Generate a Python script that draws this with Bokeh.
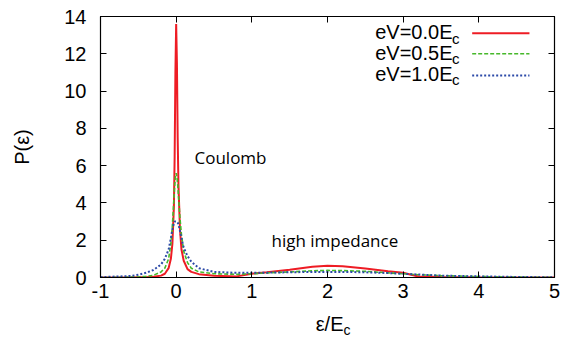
from bokeh.plotting import figure
from bokeh.layouts import column
from bokeh.models import Range1d, LinearAxis, FixedTicker
from bokeh.core.properties import value
from bokeh.embed import file_html
from bokeh.resources import INLINE

# ---- data ----
eps = [-1.0, -0.8, -0.6, -0.5, -0.4, -0.3, -0.2, -0.15, -0.1, -0.07, -0.05, -0.03, -0.02, -0.01,
       0.0, 0.01, 0.02, 0.03, 0.05, 0.07, 0.1, 0.15, 0.2, 0.3, 0.5, 0.8, 1.0, 1.2, 1.5, 1.8,
       2.0, 2.2, 2.5, 2.8, 3.0, 3.2, 3.5, 4.0, 4.5, 5.0]
p_v00 = [0.0, 0.0, 0.0, 0.01, 0.02, 0.04, 0.1, 0.2, 0.5, 1.0, 1.8, 3.8, 6.5, 11.0,
         13.6, 11.5, 7.5, 5.0, 2.6, 1.5, 0.9, 0.45, 0.3, 0.18, 0.1, 0.06, 0.2, 0.28, 0.42, 0.58,
         0.63, 0.6, 0.48, 0.33, 0.25, 0.05, 0.03, 0.01, 0.0, 0.0]
p_v05 = [0.0, 0.01, 0.02, 0.03, 0.06, 0.12, 0.3, 0.5, 1.0, 1.8, 2.8, 4.2, 4.9, 5.4,
         5.6, 5.4, 5.0, 4.4, 3.2, 2.3, 1.4, 0.8, 0.5, 0.3, 0.2, 0.17, 0.2, 0.25, 0.3, 0.36,
         0.38, 0.37, 0.33, 0.25, 0.2, 0.15, 0.1, 0.05, 0.02, 0.01]
p_v10 = [0.02, 0.05, 0.08, 0.15, 0.25, 0.4, 0.7, 1.0, 1.5, 2.1, 2.6, 2.9, 3.0, 3.0,
         3.0, 3.0, 2.95, 2.85, 2.5, 2.1, 1.6, 1.15, 0.85, 0.5, 0.3, 0.25, 0.25, 0.26, 0.28, 0.3,
         0.3, 0.3, 0.28, 0.24, 0.2, 0.16, 0.1, 0.06, 0.03, 0.01]
series_labels = ["eV=0.0E", "eV=0.5E", "eV=1.0E"]
x_ticks = [-1, 0, 1, 2, 3, 4, 5]
y_ticks = [0, 2, 4, 6, 8, 10, 12, 14]

colors = ["#ee1c24", "#46b82a", "#2c4aa8"]
dashes = ["solid", "4 2", "2 2"]
widths = [2, 1.6, 2]

W = 564
BL, BR = 100, 10
p = figure(width=W, height=307, output_backend="svg", toolbar_location=None, title_location=None,
           x_range=Range1d(-1, 5), y_range=Range1d(0, 14),
           min_border_left=BL, min_border_right=BR, min_border_top=16, min_border_bottom=30)
p.xgrid.visible = False
p.ygrid.visible = False
p.outline_line_color = "black"
p.outline_line_width = 1.2

for ys, c, d, w in zip([p_v00, p_v05, p_v10], colors, dashes, widths):
    p.line(eps, ys, line_color=c, line_dash=d, line_width=w)

tick_font = "Liberation Sans"
for ax in [p.xaxis[0], p.yaxis[0]]:
    ax.major_label_text_font = tick_font
    ax.major_label_text_font_size = "20px"
    ax.major_label_text_color = "black"
    ax.major_tick_in = 6
    ax.major_tick_out = 0
    ax.minor_tick_in = 0
    ax.minor_tick_out = 0
    ax.axis_line_color = "black"
    ax.major_tick_line_color = "black"
p.xaxis[0].ticker = FixedTicker(ticks=x_ticks)
p.yaxis[0].ticker = FixedTicker(ticks=y_ticks)
p.xaxis[0].major_label_overrides = {-1: "-1"}
p.xaxis[0].major_label_standoff = 6
p.yaxis[0].major_label_standoff = 14
p.yaxis[0].axis_label = "P(ε)"
p.yaxis[0].axis_label_text_font = tick_font
p.yaxis[0].axis_label_text_font_size = "20px"
p.yaxis[0].axis_label_text_font_style = "normal"
p.yaxis[0].axis_label_text_color = "black"
p.yaxis[0].axis_label_standoff = 28

# mirrored ticks on top and right
top = LinearAxis(ticker=FixedTicker(ticks=x_ticks), major_label_text_font_size="0px",
                 major_tick_in=6, major_tick_out=0, minor_tick_in=0, minor_tick_out=0,
                 major_label_standoff=0, axis_line_color="black")
right = LinearAxis(ticker=FixedTicker(ticks=y_ticks), major_label_text_font_size="0px",
                   major_tick_in=6, major_tick_out=0, minor_tick_in=0, minor_tick_out=0,
                   major_label_standoff=0, axis_line_color="black")
p.add_layout(top, "above")
p.add_layout(right, "right")

# legend (gnuplot style: text left, sample right)
leg_text_y = [13.144, 12.044, 10.917]
leg_line_y = [13.106, 12.001, 10.837]
p.text(x=[3.652] * 3, y=leg_text_y, text=series_labels, text_font=value(tick_font),
       text_font_size="20px", text_align="right", text_baseline="middle", text_color="black")
p.text(x=[3.645] * 3, y=[t - 0.32 for t in leg_text_y], text=["c"] * 3, text_font=value(tick_font),
       text_font_size="15px", text_align="left", text_baseline="middle", text_color="black")
for ly, c, d, w in zip(leg_line_y, colors, dashes, widths):
    p.segment(x0=[3.912], y0=[ly], x1=[4.669], y1=[ly], line_color=c, line_dash=d, line_width=w)

# annotations
ann_font = "Open Sans"
p.text(x=[0.242, 1.26], y=[6.438, 1.958], text=["Coulomb", "high impedance"],
       text_font=value(ann_font), text_font_size="17px", text_baseline="middle",
       text_color="black")

# x-axis label strip (pixel coordinates) holding "ε/E" with subscript c
SH = 32
sub = figure(width=W, height=SH, output_backend="svg", toolbar_location=None, title_location=None,
             x_range=Range1d(BL, W - BR), y_range=Range1d(0, SH),
             x_axis_location=None, y_axis_location=None,
             min_border_left=BL, min_border_right=BR, min_border_top=0, min_border_bottom=0)
sub.xgrid.visible = False
sub.ygrid.visible = False
sub.outline_line_color = None
sub.text(x=[343], y=[16], text=["ε/E"], text_font=value(tick_font), text_font_size="20px",
         text_align="right", text_baseline="middle", text_color="black")
sub.text(x=[343], y=[10], text=["c"], text_font=value(tick_font), text_font_size="14px",
         text_align="left", text_baseline="middle", text_color="black")

layout = column(p, sub, spacing=0)
open("out.html", "w").write(file_html(layout, INLINE))
